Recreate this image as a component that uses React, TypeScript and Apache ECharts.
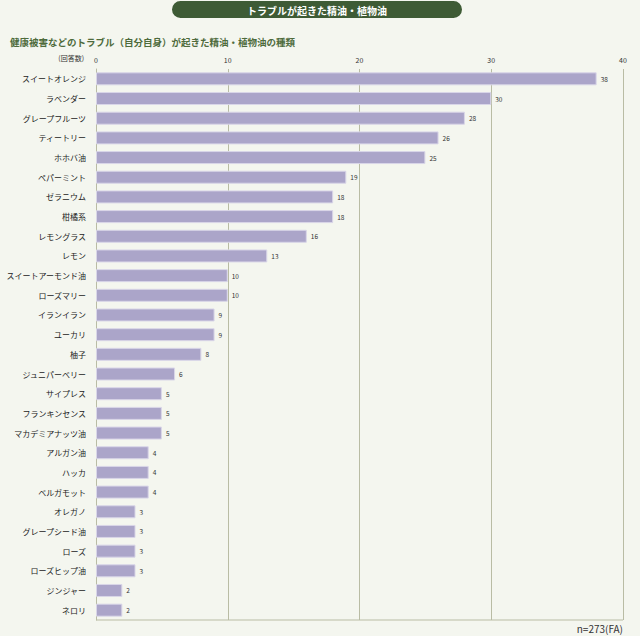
import React, { useEffect, useRef } from "react";
import * as echarts from "echarts";

const categories = [
  "スイートオレンジ", "ラベンダー", "グレープフルーツ", "ティートリー", "ホホバ油",
  "ペパーミント", "ゼラニウム", "柑橘系", "レモングラス", "レモン",
  "スイートアーモンド油", "ローズマリー", "イランイラン", "ユーカリ", "柚子",
  "ジュニパーベリー", "サイプレス", "フランキンセンス", "マカデミアナッツ油", "アルガン油",
  "ハッカ", "ベルガモット", "オレガノ", "グレープシード油", "ローズ",
  "ローズヒップ油", "ジンジャー", "ネロリ",
];
const counts = [38, 30, 28, 26, 25, 19, 18, 18, 16, 13, 10, 10, 9, 9, 8, 6, 5, 5, 5, 4, 4, 4, 3, 3, 3, 3, 2, 2];
const xTicks = [0, 10, 20, 30, 40];

const titleText = "トラブルが起きた精油・植物油";
const subtitleText = "健康被害などのトラブル（自分自身）が起きた精油・植物油の種類";
const unitText = "(回答数)";
const footText = "n=273(FA)";

const FONT = "'Noto Sans CJK JP', 'Noto Sans', sans-serif";
const GRID_COLOR = "#b9bca4";

export default function App() {
  const ref = useRef<HTMLDivElement>(null);
  useEffect(() => {
    if (!ref.current) return;
    const chart = echarts.init(ref.current, undefined, { renderer: "svg" });
    chart.setOption({
      animation: false,
      backgroundColor: "#f4f6ef",
      textStyle: { fontFamily: FONT },
      grid: { left: 96, right: 17, top: 69, height: 551, containLabel: false, outerBoundsMode: "none" },
      xAxis: {
        type: "value",
        position: "top",
        min: xTicks[0],
        max: xTicks[xTicks.length - 1],
        interval: 10,
        axisLine: { show: false },
        axisTick: { show: false },
        axisLabel: { fontSize: 7, color: "#333", margin: 6, fontFamily: FONT },
        splitLine: { show: true, lineStyle: { color: GRID_COLOR, width: 1 } },
      },
      yAxis: {
        type: "category",
        data: categories,
        inverse: true,
        axisLine: { show: true, lineStyle: { color: GRID_COLOR, width: 1 } },
        axisTick: { show: false },
        axisLabel: { fontSize: 8, color: "#222", margin: 10, fontFamily: FONT },
      },
      series: [
        {
          type: "bar",
          data: counts,
          barWidth: 13,
          itemStyle: { color: "#aba5c9", borderColor: "#d9d6e8", borderWidth: 1 },
          label: {
            show: true,
            position: "right",
            distance: 4,
            fontSize: 6.5,
            color: "#333",
            fontFamily: FONT,
          },
        },
      ],
      graphic: [
        {
          type: "rect",
          shape: { x: 172, y: 1, width: 290, height: 17, r: 8.5 },
          style: { fill: "#3e5b35" },
        },
        {
          type: "text",
          x: 317,
          y: 10,
          style: {
            text: titleText,
            fill: "#ffffff",
            fontSize: 10,
            fontWeight: "bold",
            fontFamily: FONT,
            align: "center",
            verticalAlign: "middle",
          },
        },
        {
          type: "text",
          x: 10,
          y: 42,
          style: {
            text: subtitleText,
            fill: "#4e6b3c",
            fontSize: 9.5,
            fontWeight: "bold",
            fontFamily: FONT,
            align: "left",
            verticalAlign: "middle",
          },
        },
        {
          type: "text",
          x: 84,
          y: 58,
          style: {
            text: unitText,
            fill: "#333",
            fontSize: 7,
            fontFamily: FONT,
            align: "right",
            verticalAlign: "middle",
          },
        },
        {
          type: "line",
          shape: { x1: 96, y1: 620, x2: 623, y2: 620 },
          style: { stroke: GRID_COLOR, lineWidth: 1 },
        },
        {
          type: "text",
          x: 623,
          y: 628,
          style: {
            text: footText,
            fill: "#333",
            fontSize: 10,
            fontFamily: FONT,
            align: "right",
            verticalAlign: "middle",
          },
        },
      ],
    });
    return () => chart.dispose();
  }, []);
  return (
    <div
      ref={ref}
      style={{ position: "absolute", left: 0, top: 0, width: 640, height: 636 }}
    />
  );
}
